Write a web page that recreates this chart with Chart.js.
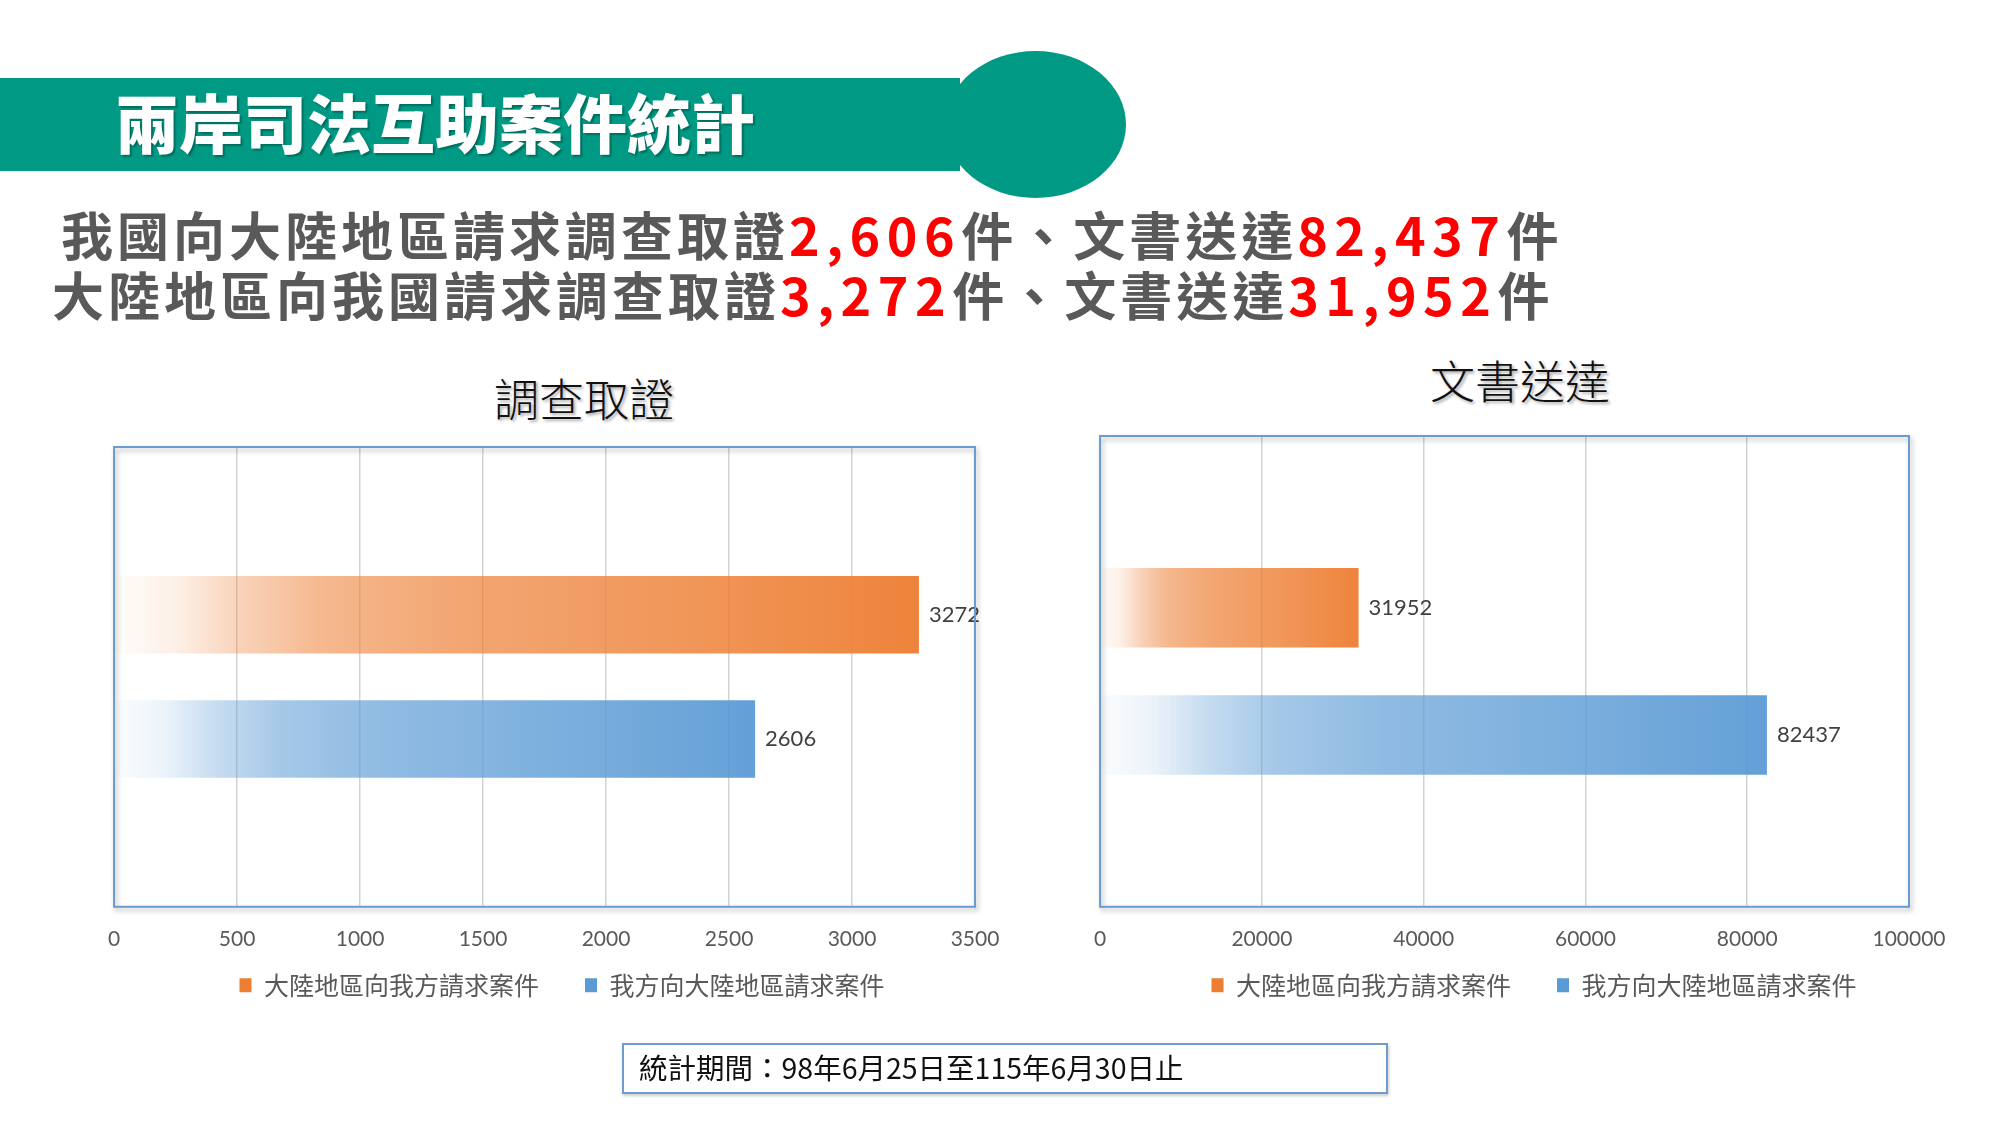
<!DOCTYPE html>
<html>
<head>
<meta charset="utf-8">
<script src="https://cdn.jsdelivr.net/npm/chart.js@4.4.1/dist/chart.umd.min.js"></script>
<style>
  html, body { margin: 0; padding: 0; background: #fff; }
  body { width: 2000px; height: 1125px; position: relative; overflow: hidden; font-family: "Noto Sans CJK TC", sans-serif; }
  .abs { position: absolute; }
  #band { left: 0; top: 78px; width: 960px; height: 93px; background: #009a84; }
  #blob { left: 945px; top: 51px; width: 181px; height: 147px; border-radius: 50%; background: #009a84; }
  #mainTitle { left: 115px; top: 88px; font-size: 64px; line-height: 1; font-weight: 900; color: #fff;
    white-space: nowrap; text-shadow: 2px 2px 2px rgba(0,0,0,0.3); }
  .sub { font-size: 52px; line-height: 1; font-weight: 700; color: #595959; letter-spacing: 4px; white-space: nowrap; }
  .sub .num { color: #f00; letter-spacing: 6.5px; }
  #sub1 { left: 61px; top: 208px; }
  #sub2 { left: 52px; top: 268px; }
  .chartTitle { font-size: 45px; line-height: 1; font-weight: 300; color: #111; white-space: nowrap; transform: translateX(-50%);
    text-shadow: 2px 2px 3px rgba(0,0,0,0.35); }
  #t1 { left: 584px; top: 375px; }
  #t2 { left: 1520px; top: 357px; }
  #c1box { left: 88px; top: 437px; width: 947px; height: 616px; }
  #c2box { left: 1074px; top: 426px; width: 914px; height: 627px; }
  canvas { display: block; }
  #period { left: 622px; top: 1043px; width: 766px; height: 51px; box-sizing: border-box;
    border: 2px solid #6f9bd0; box-shadow: 1px 2px 3px rgba(0,0,0,0.2); }
  #periodText { left: 639px; top: 1053px; font-size: 28.5px; line-height: 1; color: #111; white-space: nowrap; }
</style>
</head>
<body>
<div id="band" class="abs"></div>
<div id="blob" class="abs"></div>
<div id="mainTitle" class="abs">兩岸司法互助案件統計</div>
<div id="sub1" class="abs sub"></div>
<div id="sub2" class="abs sub"></div>
<div id="t1" class="abs chartTitle"></div>
<div id="t2" class="abs chartTitle"></div>
<div id="c1box" class="abs"><canvas id="c1" width="947" height="616"></canvas></div>
<div id="c2box" class="abs"><canvas id="c2" width="914" height="627"></canvas></div>
<div id="period" class="abs"></div>
<div id="periodText" class="abs">統計期間：98年6月25日至115年6月30日止</div>

<script>
// data
const categories = ['調查取證', '文書送達'];
const seriesNames = ['大陸地區向我方請求案件', '我方向大陸地區請求案件'];
const mainlandToUs = [3272, 31952];   // orange
const usToMainland = [2606, 82437];   // blue
const evidenceTicks = [0, 500, 1000, 1500, 2000, 2500, 3000, 3500];
const deliveryTicks = [0, 20000, 40000, 60000, 80000, 100000];

const orange = '237,125,49';
const blue = '91,155,213';

// headline text
const fmt = n => n.toLocaleString('en-US');
document.getElementById('sub1').innerHTML =
  '我國向大陸地區請求' + categories[0] + '<span class="num">' + fmt(usToMainland[0]) + '</span>件、' +
  categories[1] + '<span class="num">' + fmt(usToMainland[1]) + '</span>件';
document.getElementById('sub2').innerHTML =
  '大陸地區向我國請求' + categories[0] + '<span class="num">' + fmt(mainlandToUs[0]) + '</span>件、' +
  categories[1] + '<span class="num">' + fmt(mainlandToUs[1]) + '</span>件';
document.getElementById('t1').textContent = categories[0];
document.getElementById('t2').textContent = categories[1];

// bars fade in from the left
function barFill(rgb) {
  return (ctx) => {
    const chart = ctx.chart;
    if (!chart.chartArea || ctx.type !== 'data') return 'rgb(' + rgb + ')';
    const xs = chart.scales.x;
    const x0 = xs.getPixelForValue(0);
    const x1 = xs.getPixelForValue(ctx.raw);
    const g = chart.ctx.createLinearGradient(x0, 0, x1, 0);
    g.addColorStop(0, 'rgba(' + rgb + ',0.02)');
    g.addColorStop(0.08, 'rgba(' + rgb + ',0.12)');
    g.addColorStop(0.16, 'rgba(' + rgb + ',0.35)');
    g.addColorStop(0.26, 'rgba(' + rgb + ',0.55)');
    g.addColorStop(0.42, 'rgba(' + rgb + ',0.68)');
    g.addColorStop(0.7, 'rgba(' + rgb + ',0.8)');
    g.addColorStop(1, 'rgba(' + rgb + ',0.95)');
    return g;
  };
}

// box around the plot area
const frame = {
  id: 'frame',
  afterDraw(chart) {
    const a = chart.chartArea;
    const c = chart.ctx;
    c.save();
    c.shadowColor = 'rgba(0,0,0,0.3)';
    c.shadowBlur = 5;
    c.shadowOffsetX = 2;
    c.shadowOffsetY = 3;
    c.strokeStyle = '#6a9bd1';
    c.lineWidth = 2;
    c.strokeRect(a.left, a.top, a.right - a.left, a.bottom - a.top);
    c.restore();
  }
};

// pull the legend up a bit, closer to the tick labels
const legendLift = {
  id: 'legendLift',
  afterLayout(chart) {
    const lift = chart.scales.x.bottom - (chart.chartArea.bottom + 20);
    chart.legend.top -= lift;
    chart.legend.bottom -= lift;
  }
};

// value next to each bar
const valueLabels = {
  id: 'valueLabels',
  afterDatasetsDraw(chart) {
    const c = chart.ctx;
    c.save();
    c.font = '22px Lato';
    c.fillStyle = '#404040';
    c.textBaseline = 'middle';
    chart.data.datasets.forEach((ds, i) => {
      chart.getDatasetMeta(i).data.forEach((bar, j) => {
        c.fillText(String(ds.data[j]), bar.x + 10, bar.y);
      });
    });
    c.restore();
  }
};

function makeChart(id, cat, values, ticks, rightGap, padRight) {
  return new Chart(document.getElementById(id), {
    type: 'bar',
    data: {
      labels: [cat],
      datasets: [
        { label: seriesNames[0], data: [values[0]], backgroundColor: barFill(orange), borderWidth: 0 },
        { label: seriesNames[1], data: [values[1]], backgroundColor: barFill(blue), borderWidth: 0 }
      ]
    },
    options: {
      indexAxis: 'y',
      responsive: false,
      animation: false,
      devicePixelRatio: 1,
      categoryPercentage: 0.54,
      barPercentage: 0.625,
      layout: { padding: { left: 26, right: padRight, top: 10, bottom: 0 } },
      scales: {
        x: {
          min: ticks[0],
          max: ticks[ticks.length - 1],
          ticks: {
            stepSize: ticks[1] - ticks[0],
            padding: 20,
            color: '#595959',
            font: { family: 'Lato', size: 21 },
            callback: v => String(v)
          },
          grid: { color: '#d3d3d3', lineWidth: 1.5, drawTicks: false },
          border: { display: false }
        },
        y: {
          position: 'right',
          ticks: { display: false },
          grid: { display: false },
          border: { display: false },
          afterFit: s => { s.width = rightGap; }
        }
      },
      plugins: {
        legend: {
          position: 'bottom',
          labels: {
            boxWidth: 12,
            boxHeight: 14,
            padding: 46,
            color: '#595959',
            font: { family: '"Noto Sans CJK TC"', size: 25 },
            generateLabels: () => seriesNames.map((text, i) => ({
              text,
              fillStyle: 'rgb(' + (i === 0 ? orange : blue) + ')',
              strokeStyle: 'rgba(0,0,0,0)',
              lineWidth: 0,
              hidden: false,
              datasetIndex: i,
              fontColor: '#595959'
            }))
          }
        },
        tooltip: { enabled: false }
      }
    },
    plugins: [frame, valueLabels, legendLift]
  });
}

makeChart('c1', categories[0], [mainlandToUs[0], usToMainland[0]], evidenceTicks, 35, 25);
makeChart('c2', categories[1], [mainlandToUs[1], usToMainland[1]], deliveryTicks, 59, 20);
</script>
</body>
</html>
